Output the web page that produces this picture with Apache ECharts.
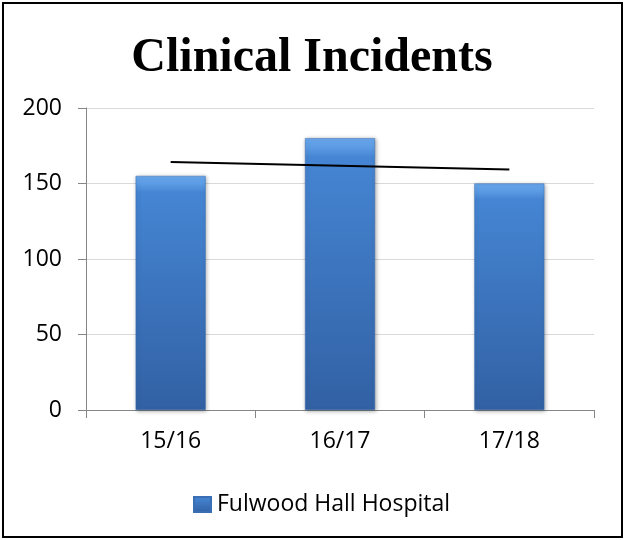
<!DOCTYPE html>
<html>
<head>
<meta charset="utf-8">
<script src="https://cdn.jsdelivr.net/npm/echarts@6/dist/echarts.min.js"></script>
<style>
  html, body { margin: 0; padding: 0; background: #fff; }
  #chart { width: 624px; height: 540px; }
</style>
</head>
<body>
<div id="chart"></div>
<script>
// Financial years shown on the category axis
const years = ['15/16', '16/17', '17/18'];
// Reported clinical incidents per year
const incidents = [155, 180, 150];
// Linear trend line across the three years
const trendValues = [164.2, 161.7, 159.2];
// Value axis ticks
const yMin = 0, yMax = 200, yStep = 50;

const barFill = new echarts.graphic.LinearGradient(0, 0, 0, 1, [
  { offset: 0, color: '#6aa9ef' },
  { offset: 0.035, color: '#5b9be4' },
  { offset: 0.07, color: '#4585d3' },
  { offset: 1, color: '#3261a4' }
]);

const labelFont = { fontFamily: 'Open Sans', fontSize: 23, color: '#000' };

const chart = echarts.init(document.getElementById('chart'), null, { renderer: 'canvas' });
chart.setOption({
  animation: false,
  backgroundColor: '#ffffff',
  title: {
    text: 'Clinical Incidents',
    left: 'center',
    top: 30,
    textStyle: {
      fontFamily: 'Liberation Serif',
      fontWeight: 'bold',
      fontSize: 48,
      color: '#000'
    }
  },
  graphic: [{
    type: 'rect',
    shape: { x: 3, y: 3, width: 619, height: 534 },
    style: { fill: 'none', stroke: '#000', lineWidth: 2 },
    silent: true
  }],
  grid: { left: 86, right: 30, top: 108, bottom: 130 },
  legend: {
    data: [{ name: 'Fulwood Hall Hospital', icon: 'rect' }],
    left: 188,
    top: 488,
    itemWidth: 17,
    itemHeight: 15,
    itemGap: 10,
    textStyle: Object.assign({ padding: [0, 0, 0, 1] }, labelFont)
  },
  xAxis: {
    type: 'category',
    data: years,
    axisLine: { show: true, lineStyle: { color: '#868686', width: 1 } },
    axisTick: { show: true, alignWithLabel: false, length: 8, lineStyle: { color: '#868686' } },
    axisLabel: Object.assign({ margin: 20 }, labelFont),
    splitLine: { show: false }
  },
  yAxis: {
    type: 'value',
    min: yMin,
    max: yMax,
    interval: yStep,
    axisLine: { show: true, lineStyle: { color: '#868686', width: 1 } },
    axisTick: { show: true, length: 8, lineStyle: { color: '#868686' } },
    axisLabel: Object.assign({ margin: 24 }, labelFont),
    splitLine: { show: true, lineStyle: { color: '#d9d9d9', width: 1 } }
  },
  series: [
    {
      name: 'Fulwood Hall Hospital',
      type: 'bar',
      data: incidents,
      barWidth: 70,
      itemStyle: {
        color: barFill,
        borderColor: '#3a6fb5',
        borderWidth: 0.5,
        shadowBlur: 4,
        shadowColor: 'rgba(0,0,0,0.35)',
        shadowOffsetX: 1,
        shadowOffsetY: 1
      },
      z: 2
    },
    {
      name: 'Trend',
      type: 'line',
      data: trendValues,
      symbol: 'none',
      lineStyle: { color: '#000', width: 2 },
      z: 5
    }
  ]
});
</script>
</body>
</html>
